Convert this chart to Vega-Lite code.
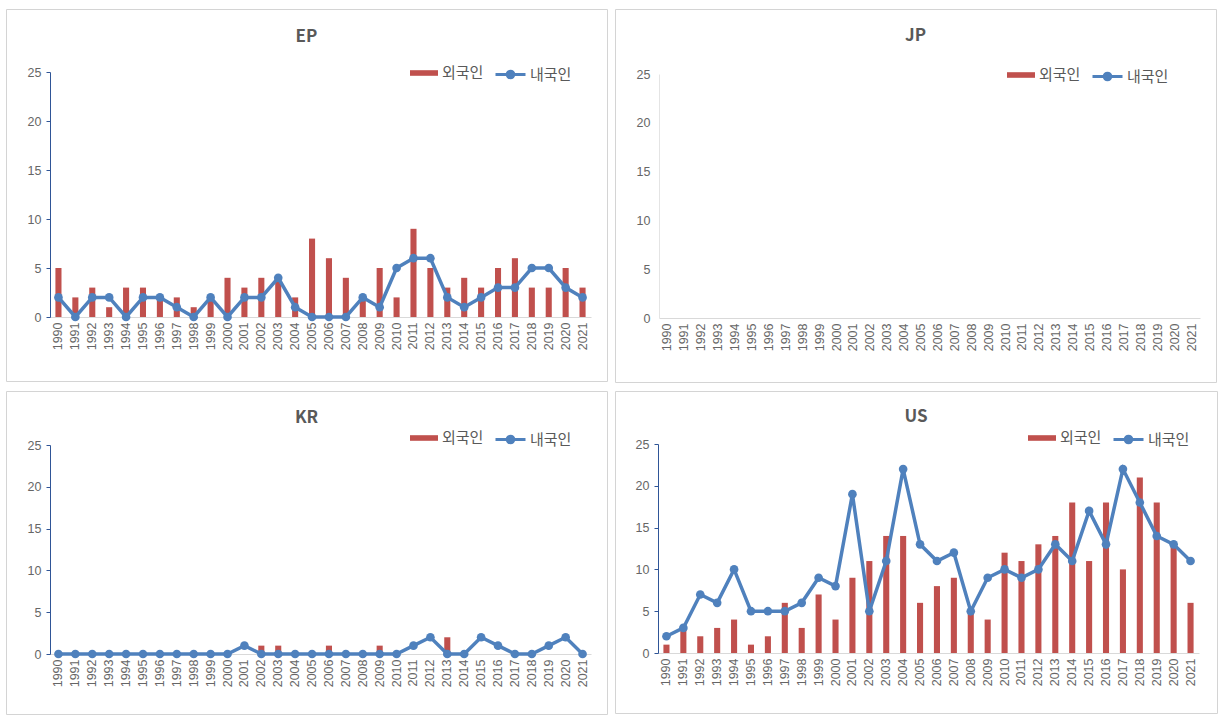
{
  "$schema": "https://vega.github.io/schema/vega-lite/v6.json",
  "background": "white",
  "padding": {"left": 5, "top": 8, "right": 5, "bottom": 5},
  "spacing": {"row": 9, "column": 8},
  "columns": 2,
  "bounds": "flush",
  "config": {
    "view": {"stroke": "#D4D4D4", "strokeWidth": 1},
    "title": {"font": "Noto Sans CJK KR", "fontSize": 17, "fontWeight": "bold", "color": "#595959", "anchor": "middle"},
    "axis": {"labelFont": "Liberation Sans", "labelColor": "#666666", "grid": false, "title": null},
    "legend": {"orient": "none", "direction": "horizontal", "labelFont": "Noto Sans CJK KR", "labelFontSize": 15, "labelColor": "#595959", "padding": 0, "labelOffset": 3}
  },
  "resolve": {"scale": {"fill": "independent", "stroke": "independent", "x": "independent", "y": "independent"}, "legend": {"fill": "independent", "stroke": "independent"}},
  "data": {"values": [
    {"c":"EP","year":"1990","foreign":5,"domestic":2},{"c":"EP","year":"1991","foreign":2,"domestic":0},{"c":"EP","year":"1992","foreign":3,"domestic":2},{"c":"EP","year":"1993","foreign":1,"domestic":2},{"c":"EP","year":"1994","foreign":3,"domestic":0},{"c":"EP","year":"1995","foreign":3,"domestic":2},{"c":"EP","year":"1996","foreign":2,"domestic":2},{"c":"EP","year":"1997","foreign":2,"domestic":1},{"c":"EP","year":"1998","foreign":1,"domestic":0},{"c":"EP","year":"1999","foreign":2,"domestic":2},{"c":"EP","year":"2000","foreign":4,"domestic":0},{"c":"EP","year":"2001","foreign":3,"domestic":2},{"c":"EP","year":"2002","foreign":4,"domestic":2},{"c":"EP","year":"2003","foreign":4,"domestic":4},{"c":"EP","year":"2004","foreign":2,"domestic":1},{"c":"EP","year":"2005","foreign":8,"domestic":0},{"c":"EP","year":"2006","foreign":6,"domestic":0},{"c":"EP","year":"2007","foreign":4,"domestic":0},{"c":"EP","year":"2008","foreign":2,"domestic":2},{"c":"EP","year":"2009","foreign":5,"domestic":1},{"c":"EP","year":"2010","foreign":2,"domestic":5},{"c":"EP","year":"2011","foreign":9,"domestic":6},{"c":"EP","year":"2012","foreign":5,"domestic":6},{"c":"EP","year":"2013","foreign":3,"domestic":2},{"c":"EP","year":"2014","foreign":4,"domestic":1},{"c":"EP","year":"2015","foreign":3,"domestic":2},{"c":"EP","year":"2016","foreign":5,"domestic":3},{"c":"EP","year":"2017","foreign":6,"domestic":3},{"c":"EP","year":"2018","foreign":3,"domestic":5},{"c":"EP","year":"2019","foreign":3,"domestic":5},{"c":"EP","year":"2020","foreign":5,"domestic":3},{"c":"EP","year":"2021","foreign":3,"domestic":2},
    {"c":"KR","year":"1990","foreign":0,"domestic":0},{"c":"KR","year":"1991","foreign":0,"domestic":0},{"c":"KR","year":"1992","foreign":0,"domestic":0},{"c":"KR","year":"1993","foreign":0,"domestic":0},{"c":"KR","year":"1994","foreign":0,"domestic":0},{"c":"KR","year":"1995","foreign":0,"domestic":0},{"c":"KR","year":"1996","foreign":0,"domestic":0},{"c":"KR","year":"1997","foreign":0,"domestic":0},{"c":"KR","year":"1998","foreign":0,"domestic":0},{"c":"KR","year":"1999","foreign":0,"domestic":0},{"c":"KR","year":"2000","foreign":0,"domestic":0},{"c":"KR","year":"2001","foreign":0,"domestic":1},{"c":"KR","year":"2002","foreign":1,"domestic":0},{"c":"KR","year":"2003","foreign":1,"domestic":0},{"c":"KR","year":"2004","foreign":0,"domestic":0},{"c":"KR","year":"2005","foreign":0,"domestic":0},{"c":"KR","year":"2006","foreign":1,"domestic":0},{"c":"KR","year":"2007","foreign":0,"domestic":0},{"c":"KR","year":"2008","foreign":0,"domestic":0},{"c":"KR","year":"2009","foreign":1,"domestic":0},{"c":"KR","year":"2010","foreign":0,"domestic":0},{"c":"KR","year":"2011","foreign":0,"domestic":1},{"c":"KR","year":"2012","foreign":0,"domestic":2},{"c":"KR","year":"2013","foreign":2,"domestic":0},{"c":"KR","year":"2014","foreign":0,"domestic":0},{"c":"KR","year":"2015","foreign":0,"domestic":2},{"c":"KR","year":"2016","foreign":0,"domestic":1},{"c":"KR","year":"2017","foreign":0,"domestic":0},{"c":"KR","year":"2018","foreign":0,"domestic":0},{"c":"KR","year":"2019","foreign":0,"domestic":1},{"c":"KR","year":"2020","foreign":0,"domestic":2},{"c":"KR","year":"2021","foreign":0,"domestic":0},
    {"c":"US","year":"1990","foreign":1,"domestic":2},{"c":"US","year":"1991","foreign":3,"domestic":3},{"c":"US","year":"1992","foreign":2,"domestic":7},{"c":"US","year":"1993","foreign":3,"domestic":6},{"c":"US","year":"1994","foreign":4,"domestic":10},{"c":"US","year":"1995","foreign":1,"domestic":5},{"c":"US","year":"1996","foreign":2,"domestic":5},{"c":"US","year":"1997","foreign":6,"domestic":5},{"c":"US","year":"1998","foreign":3,"domestic":6},{"c":"US","year":"1999","foreign":7,"domestic":9},{"c":"US","year":"2000","foreign":4,"domestic":8},{"c":"US","year":"2001","foreign":9,"domestic":19},{"c":"US","year":"2002","foreign":11,"domestic":5},{"c":"US","year":"2003","foreign":14,"domestic":11},{"c":"US","year":"2004","foreign":14,"domestic":22},{"c":"US","year":"2005","foreign":6,"domestic":13},{"c":"US","year":"2006","foreign":8,"domestic":11},{"c":"US","year":"2007","foreign":9,"domestic":12},{"c":"US","year":"2008","foreign":5,"domestic":5},{"c":"US","year":"2009","foreign":4,"domestic":9},{"c":"US","year":"2010","foreign":12,"domestic":10},{"c":"US","year":"2011","foreign":11,"domestic":9},{"c":"US","year":"2012","foreign":13,"domestic":10},{"c":"US","year":"2013","foreign":14,"domestic":13},{"c":"US","year":"2014","foreign":18,"domestic":11},{"c":"US","year":"2015","foreign":11,"domestic":17},{"c":"US","year":"2016","foreign":18,"domestic":13},{"c":"US","year":"2017","foreign":10,"domestic":22},{"c":"US","year":"2018","foreign":21,"domestic":18},{"c":"US","year":"2019","foreign":18,"domestic":14},{"c":"US","year":"2020","foreign":13,"domestic":13},{"c":"US","year":"2021","foreign":6,"domestic":11}
  ]},
  "concat": [
    {
      "width": 601, "height": 372,
      "title": {"text": "EP", "offset": -37},
      "transform": [{"filter": "datum.c === 'EP'"}],
      "layer": [
        {"mark": {"type": "bar", "width": {"band": 0.36}},
         "encoding": {
           "x": {"field": "year", "type": "ordinal", "scale": {"domain": ["1990","1991","1992","1993","1994","1995","1996","1997","1998","1999","2000","2001","2002","2003","2004","2005","2006","2007","2008","2009","2010","2011","2012","2013","2014","2015","2016","2017","2018","2019","2020","2021"], "range": [44, 585], "paddingInner": 0, "paddingOuter": 0}, "axis": {"orient": "bottom", "offset": -64, "labelAngle": -90, "ticks": false, "domainColor": "#D9D9D9", "labelFontSize": 12.5, "labelPadding": 5}},
           "y": {"field": "foreign", "type": "quantitative", "scale": {"domain": [0, 25], "range": [308, 63], "nice": false}, "axis": {"offset": -44, "values": [0,5,10,15,20,25], "domainColor": "#2F5597", "tickColor": "#2F5597", "tickSize": 4, "labelFontSize": 12.5, "labelPadding": 5}},
           "fill": {"datum": "외국인", "type": "nominal", "scale": {"domain": ["외국인"], "range": ["#C0504D"]}, "legend": {"legendX": 403, "legendY": 49, "symbolType": "M-1,-0.2H1V0.2H-1Z", "symbolSize": 784}}
         }},
        {"mark": {"type": "line", "strokeWidth": 3.5},
         "encoding": {
           "x": {"field": "year", "type": "ordinal"},
           "y": {"field": "domestic", "type": "quantitative"},
           "stroke": {"datum": "내국인", "type": "nominal", "scale": {"domain": ["내국인"], "range": ["#4F81BD"]}, "legend": {"legendX": 488, "legendY": 49, "symbolType": "M-1,0H1M0.22,0A0.22,0.22 0 1,1 -0.22,0A0.22,0.22 0 1,1 0.22,0", "symbolSize": 900, "symbolStrokeWidth": 3, "symbolFillColor": "#4F81BD"}}
         }},
        {"mark": {"type": "point", "filled": true, "size": 75, "opacity": 1, "color": "#4F81BD"},
         "encoding": {
           "x": {"field": "year", "type": "ordinal"},
           "y": {"field": "domestic", "type": "quantitative"}
         }}
      ]
    },
    {
      "width": 601, "height": 373,
      "title": {"text": "JP", "offset": -36},
      "transform": [{"filter": "datum.c === 'JP'"}],
      "layer": [
        {"mark": {"type": "bar", "width": {"band": 0.36}},
         "encoding": {
           "x": {"field": "year", "type": "ordinal", "scale": {"domain": ["1990","1991","1992","1993","1994","1995","1996","1997","1998","1999","2000","2001","2002","2003","2004","2005","2006","2007","2008","2009","2010","2011","2012","2013","2014","2015","2016","2017","2018","2019","2020","2021"], "range": [44, 585], "paddingInner": 0, "paddingOuter": 0}, "axis": {"orient": "bottom", "offset": -64, "labelAngle": -90, "ticks": false, "domainColor": "#D9D9D9", "labelFontSize": 12.5, "labelPadding": 5}},
           "y": {"field": "foreign", "type": "quantitative", "scale": {"domain": [0, 25], "range": [309, 65], "nice": false}, "axis": {"offset": -44, "values": [0,5,10,15,20,25], "domainColor": "#E4E4E4", "ticks": false, "labelFontSize": 12.5, "labelPadding": 9}},
           "fill": {"datum": "외국인", "type": "nominal", "scale": {"domain": ["외국인"], "range": ["#C0504D"]}, "legend": {"legendX": 391, "legendY": 51, "symbolType": "M-1,-0.2H1V0.2H-1Z", "symbolSize": 784}}
         }},
        {"mark": {"type": "line", "strokeWidth": 3.5},
         "encoding": {
           "x": {"field": "year", "type": "ordinal"},
           "y": {"field": "domestic", "type": "quantitative"},
           "stroke": {"datum": "내국인", "type": "nominal", "scale": {"domain": ["내국인"], "range": ["#4F81BD"]}, "legend": {"legendX": 476, "legendY": 51, "symbolType": "M-1,0H1M0.22,0A0.22,0.22 0 1,1 -0.22,0A0.22,0.22 0 1,1 0.22,0", "symbolSize": 900, "symbolStrokeWidth": 3, "symbolFillColor": "#4F81BD"}}
         }},
        {"mark": {"type": "point", "filled": true, "size": 75, "opacity": 1, "color": "#4F81BD"},
         "encoding": {
           "x": {"field": "year", "type": "ordinal"},
           "y": {"field": "domestic", "type": "quantitative"}
         }}
      ]
    },
    {
      "width": 601, "height": 323,
      "title": {"text": "KR", "offset": -36},
      "transform": [{"filter": "datum.c === 'KR'"}],
      "layer": [
        {"mark": {"type": "bar", "width": {"band": 0.36}},
         "encoding": {
           "x": {"field": "year", "type": "ordinal", "scale": {"domain": ["1990","1991","1992","1993","1994","1995","1996","1997","1998","1999","2000","2001","2002","2003","2004","2005","2006","2007","2008","2009","2010","2011","2012","2013","2014","2015","2016","2017","2018","2019","2020","2021"], "range": [44, 585], "paddingInner": 0, "paddingOuter": 0}, "axis": {"orient": "bottom", "offset": -60, "labelAngle": -90, "ticks": false, "domainColor": "#D9D9D9", "labelFontSize": 12.5, "labelPadding": 5}},
           "y": {"field": "foreign", "type": "quantitative", "scale": {"domain": [0, 25], "range": [263, 54], "nice": false}, "axis": {"offset": -44, "values": [0,5,10,15,20,25], "domainColor": "#2F5597", "tickColor": "#2F5597", "tickSize": 4, "labelFontSize": 12.5, "labelPadding": 5}},
           "fill": {"datum": "외국인", "type": "nominal", "scale": {"domain": ["외국인"], "range": ["#C0504D"]}, "legend": {"legendX": 403, "legendY": 32, "symbolType": "M-1,-0.2H1V0.2H-1Z", "symbolSize": 784}}
         }},
        {"mark": {"type": "line", "strokeWidth": 3.5},
         "encoding": {
           "x": {"field": "year", "type": "ordinal"},
           "y": {"field": "domestic", "type": "quantitative"},
           "stroke": {"datum": "내국인", "type": "nominal", "scale": {"domain": ["내국인"], "range": ["#4F81BD"]}, "legend": {"legendX": 488, "legendY": 32, "symbolType": "M-1,0H1M0.22,0A0.22,0.22 0 1,1 -0.22,0A0.22,0.22 0 1,1 0.22,0", "symbolSize": 900, "symbolStrokeWidth": 3, "symbolFillColor": "#4F81BD"}}
         }},
        {"mark": {"type": "point", "filled": true, "size": 75, "opacity": 1, "color": "#4F81BD"},
         "encoding": {
           "x": {"field": "year", "type": "ordinal"},
           "y": {"field": "domestic", "type": "quantitative"}
         }}
      ]
    },
    {
      "width": 602, "height": 322,
      "title": {"text": "US", "offset": -35},
      "transform": [{"filter": "datum.c === 'US'"}],
      "layer": [
        {"mark": {"type": "bar", "width": {"band": 0.36}},
         "encoding": {
           "x": {"field": "year", "type": "ordinal", "scale": {"domain": ["1990","1991","1992","1993","1994","1995","1996","1997","1998","1999","2000","2001","2002","2003","2004","2005","2006","2007","2008","2009","2010","2011","2012","2013","2014","2015","2016","2017","2018","2019","2020","2021"], "range": [43, 584], "paddingInner": 0, "paddingOuter": 0}, "axis": {"orient": "bottom", "offset": -60, "labelAngle": -90, "ticks": false, "domainColor": "#D9D9D9", "labelFontSize": 12.5, "labelPadding": 5}},
           "y": {"field": "foreign", "type": "quantitative", "scale": {"domain": [0, 25], "range": [262, 53], "nice": false}, "axis": {"offset": -43, "values": [0,5,10,15,20,25], "domainColor": "#2F5597", "tickColor": "#2F5597", "tickSize": 4, "labelFontSize": 12.5, "labelPadding": 5}},
           "fill": {"datum": "외국인", "type": "nominal", "scale": {"domain": ["외국인"], "range": ["#C0504D"]}, "legend": {"legendX": 412, "legendY": 32, "symbolType": "M-1,-0.2H1V0.2H-1Z", "symbolSize": 784}}
         }},
        {"mark": {"type": "line", "strokeWidth": 3.5},
         "encoding": {
           "x": {"field": "year", "type": "ordinal"},
           "y": {"field": "domestic", "type": "quantitative"},
           "stroke": {"datum": "내국인", "type": "nominal", "scale": {"domain": ["내국인"], "range": ["#4F81BD"]}, "legend": {"legendX": 497, "legendY": 32, "symbolType": "M-1,0H1M0.22,0A0.22,0.22 0 1,1 -0.22,0A0.22,0.22 0 1,1 0.22,0", "symbolSize": 900, "symbolStrokeWidth": 3, "symbolFillColor": "#4F81BD"}}
         }},
        {"mark": {"type": "point", "filled": true, "size": 75, "opacity": 1, "color": "#4F81BD"},
         "encoding": {
           "x": {"field": "year", "type": "ordinal"},
           "y": {"field": "domestic", "type": "quantitative"}
         }}
      ]
    }
  ]
}
